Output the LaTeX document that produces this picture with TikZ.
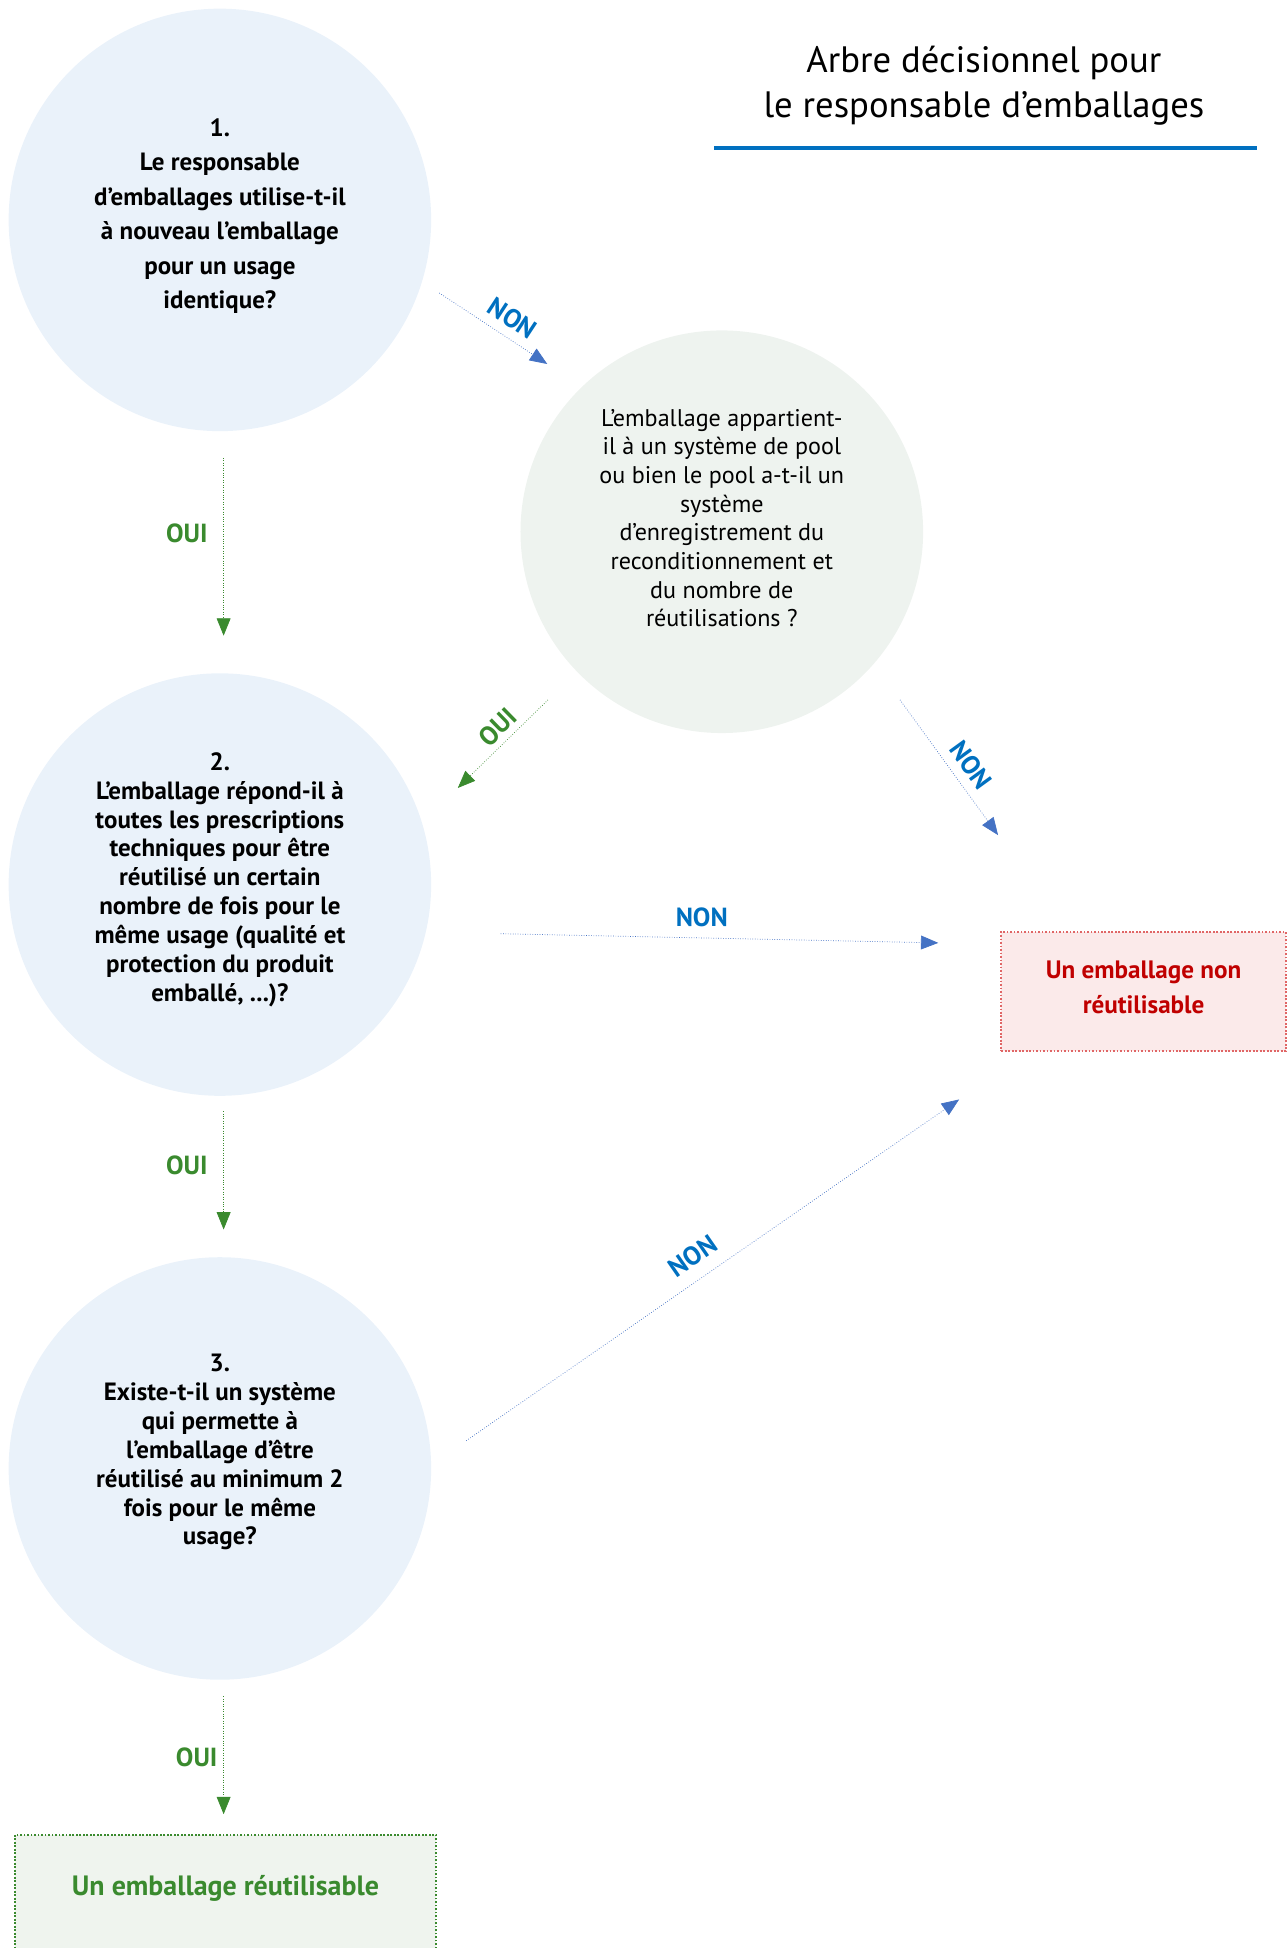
\documentclass[tikz,border=0pt]{standalone}
\usepackage{fontspec}
\setmainfont{PT Sans}
\usetikzlibrary{arrows.meta}

\definecolor{bluefill}{HTML}{EAF2FA}
\definecolor{greyfill}{HTML}{EEF3EF}
\definecolor{nonblue}{HTML}{0070C0}
\definecolor{arrowblue}{HTML}{4472C4}
\definecolor{ouigreen}{HTML}{3A8A2E}
\definecolor{redtext}{HTML}{C00000}
\definecolor{redborder}{HTML}{E06666}
\definecolor{redfill}{HTML}{FBEAEA}
\definecolor{greenfill}{HTML}{EFF4EE}

\begin{document}
\begin{tikzpicture}[x=0.025cm, y=-0.025cm]
            \tikzstyle{question} = [circle, fill=bluefill, minimum size=8.5cm, inner sep=0pt]
            \tikzstyle{pool} = [circle, fill=greyfill, minimum size=8.1cm, inner sep=0pt]
            \tikzstyle{qtext} = [align=center, font=\bfseries\fontsize{14.3}{16.5}\selectfont]
            \tikzstyle{non} = [densely dotted, thin, arrowblue, -{Triangle[length=0.35cm, width=0.28cm]}]
            \tikzstyle{oui} = [densely dotted, thin, ouigreen, -{Triangle[length=0.35cm, width=0.28cm]}]
            \tikzstyle{nonlabel} = [text=nonblue, font=\bfseries\fontsize{15}{17}\selectfont]
            \tikzstyle{ouilabel} = [text=ouigreen, font=\bfseries\fontsize{15}{17}\selectfont]
            \useasboundingbox (0, 0) rectangle (1036, 1568);
            % titre
            \node[align=center, font=\fontsize{21}{26.2}\selectfont] (titre) at (792, 69) {Arbre décisionnel pour\\le responsable d’emballages};
            \draw[nonblue, line width=2pt] (575, 119) -- (1012, 119);
            % questions
            \node[question] (q1) at (177, 177) {};
            \node[qtext, font=\bfseries\fontsize{14.3}{19.7}\selectfont] (q1txt) at (177, 174) {1.\\Le responsable\\d’emballages utilise-t-il\\à nouveau l’emballage\\pour un usage\\identique?};
            \node[pool] (pool) at (581, 428) {};
            \node[align=center, font=\fontsize{13.8}{16.4}\selectfont] (pooltxt) at (581, 417) {L’emballage appartient-\\il à un système de pool\\ou bien le pool a-t-il un\\système\\d’enregistrement du\\reconditionnement et\\du nombre de\\réutilisations ?};
            \node[question] (q2) at (177, 712) {};
            \node[qtext] (q2txt) at (177, 708) {2.\\L’emballage répond-il à\\toutes les prescriptions\\techniques pour être\\réutilisé un certain\\nombre de fois pour le\\même usage (qualité et\\protection du produit\\emballé, ...)?};
            \node[question] (q3) at (177, 1182) {};
            \node[qtext] (q3txt) at (177, 1169) {3.\\Existe-t-il un système\\qui permette à\\l’emballage d’être\\réutilisé au minimum 2\\fois pour le même\\usage?};
            % resultats
            \node[draw=redborder, densely dotted, line width=1pt, fill=redfill, minimum width=5.725cm, minimum height=2.4cm] (nonreut) at (920.5, 798) {};
            \node[text=redtext, align=center, font=\bfseries\fontsize{14.4}{19.9}\selectfont] (nonreuttxt) at (920.5, 795) {Un emballage non\\réutilisable};
            \node[draw=ouigreen, densely dotted, line width=1pt, fill=greenfill, minimum width=8.475cm, minimum height=3.575cm] (reut) at (181.5, 1548.5) {};
            \node[text=ouigreen, font=\bfseries\fontsize{16}{19}\selectfont] (reuttxt) at (181.5, 1520) {Un emballage réutilisable};
            % fleches
            \draw[non, shorten <=0.41cm, shorten >=0.83cm] (q1.-17.5) -- node[nonlabel, midway, above=2pt, sloped] {NON} (pool.134);
            \draw[oui, shorten <=0.53cm, shorten >=0.75cm] ([xshift=0.075cm]q1.south) -- node[ouilabel, pos=0.42, left=0.2cm] {OUI} ([xshift=0.075cm]q2.north);
            \draw[oui, shorten <=0.81cm, shorten >=1cm] (pool.224) -- node[ouilabel, pos=0.44, above, sloped] {OUI} (q2.17);
            \draw[non, shorten <=0.89cm, shorten >=2.38cm] (pool.-41) -- node[nonlabel, pos=0.42, above=2pt, sloped] {NON} ([xshift=1.35cm]nonreut.north west);
            \draw[non, shorten <=1.5cm, shorten >=1.25cm] (q2.-13) -- node[nonlabel, pos=0.48, above=3pt] {NON} ([yshift=0.95cm]nonreut.west);
            \draw[oui, shorten <=0.3cm, shorten >=0.55cm] ([xshift=0.075cm]q2.south) -- node[ouilabel, pos=0.43, left=0.2cm] {OUI} ([xshift=0.075cm]q3.north);
            \draw[non, shorten <=0.85cm, shorten >=1.68cm] (q3.1.6) -- node[nonlabel, pos=0.46, above=4pt, sloped] {NON} ([xshift=0.55cm]nonreut.south west);
            \draw[oui, shorten <=0.33cm, shorten >=0.4cm] ([xshift=0.075cm]q3.south) -- node[ouilabel, midway, left] {OUI} ([xshift=0.075cm]q3.south |- reut.north);
        \end{tikzpicture}
\end{document}
